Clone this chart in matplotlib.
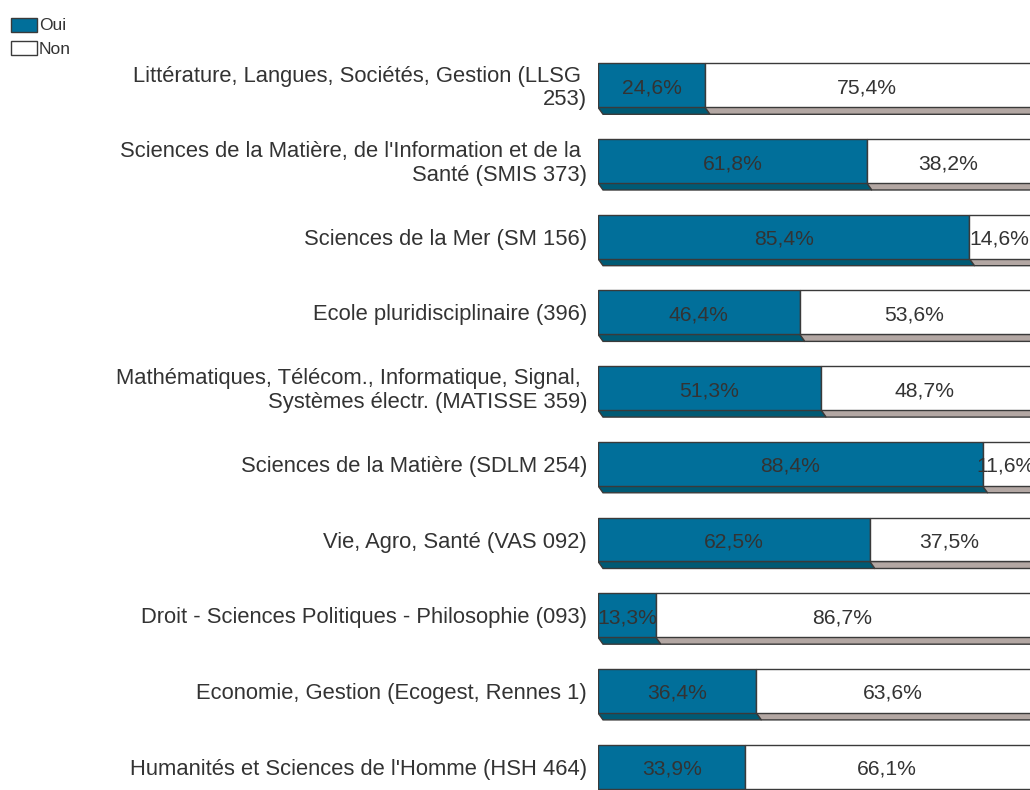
import matplotlib
matplotlib.use("Agg")
import matplotlib.pyplot as plt
from matplotlib.patches import Rectangle, Polygon

plt.rcParams['font.family'] = ['Liberation Sans', 'DejaVu Sans']

categories = [
    "Littérature, Langues, Sociétés, Gestion (LLSG \n253)",
    "Sciences de la Matière, de l'Information et de la \nSanté (SMIS 373)",
    "Sciences de la Mer (SM 156)",
    "Ecole pluridisciplinaire (396)",
    "Mathématiques, Télécom., Informatique, Signal, \nSystèmes électr. (MATISSE 359)",
    "Sciences de la Matière (SDLM 254)",
    "Vie, Agro, Santé (VAS 092)",
    "Droit - Sciences Politiques - Philosophie (093)",
    "Economie, Gestion (Ecogest, Rennes 1)",
    "Humanités et Sciences de l'Homme (HSH 464)",
]
oui = [24.6, 61.8, 85.4, 46.4, 51.3, 88.4, 62.5, 13.3, 36.4, 33.9]
non = [75.4, 38.2, 14.6, 53.6, 48.7, 11.6, 37.5, 86.7, 63.6, 66.1]
series_names = ["Oui", "Non"]

W, H = 1030, 790
fig = plt.figure(figsize=(W / 100, H / 100), dpi=100)

# axes geometry in pixels
x0_px, full_px = 598, 435
y_first, step = 85.3, 75.7
ax = fig.add_axes([x0_px / W, 0, full_px / W, 1])
ax.set_xlim(0, 100)
top = -y_first / step
bottom = (len(categories) - 1) + (H - (y_first + step * (len(categories) - 1))) / step
ax.set_ylim(bottom, top)
ax.axis('off')

c_oui, c_oui_dark = '#016f9a', '#005a74'
c_non, c_non_dark = '#ffffff', '#b3a7a3'
edge = '#3a3a3a'
txt = '#333333'
fs = 15.8
fs_val = 15.2

h = 0.581
depth = 7 / step
dx = 5 / full_px * 100
shift = 2.5 / step

y = list(range(len(categories)))
ax.barh(y, oui, height=h, color=c_oui, edgecolor=edge, linewidth=1.0, zorder=3)
ax.barh(y, non, left=oui, height=h, color=c_non, edgecolor=edge, linewidth=1.0, zorder=3)

for i in y:
    yb = i + h / 2
    for left, width, col in [(0, oui[i], c_oui_dark), (oui[i], non[i], c_non_dark)]:
        poly = Polygon([(left, yb), (left + width, yb), (left + width + dx, yb + depth),
                        (left + dx, yb + depth)], closed=True, facecolor=col,
                       edgecolor=edge, linewidth=1.0, zorder=2)
        ax.add_patch(poly)
    ax.text(oui[i] / 2, i + shift, f"{oui[i]:.1f}%".replace('.', ','), ha='center', va='center',
            fontsize=fs_val, color=txt, zorder=5, clip_on=False)
    ax.text(oui[i] + non[i] / 2 - 0.5, i + shift, f"{non[i]:.1f}%".replace('.', ','), ha='center',
            va='center', fontsize=fs_val, color=txt, zorder=5, clip_on=False)
    ax.text(-11 / full_px * 100, i + shift, categories[i], ha='right', va='center', fontsize=fs,
            color=txt, linespacing=1.15, multialignment='right', clip_on=False)

# legend
for k, (name, col) in enumerate(zip(series_names, [c_oui, c_non])):
    ytop = 18 + k * 23
    fig.add_artist(Rectangle((11 / W, 1 - (ytop + 14) / H), 26 / W, 14 / H,
                             transform=fig.transFigure, facecolor=col, edgecolor=edge, linewidth=1.0))
    fig.text(39 / W, 1 - (ytop + 8) / H, name, ha='left', va='center', fontsize=12.5, color=txt)

fig.savefig('out.png', dpi=100)
